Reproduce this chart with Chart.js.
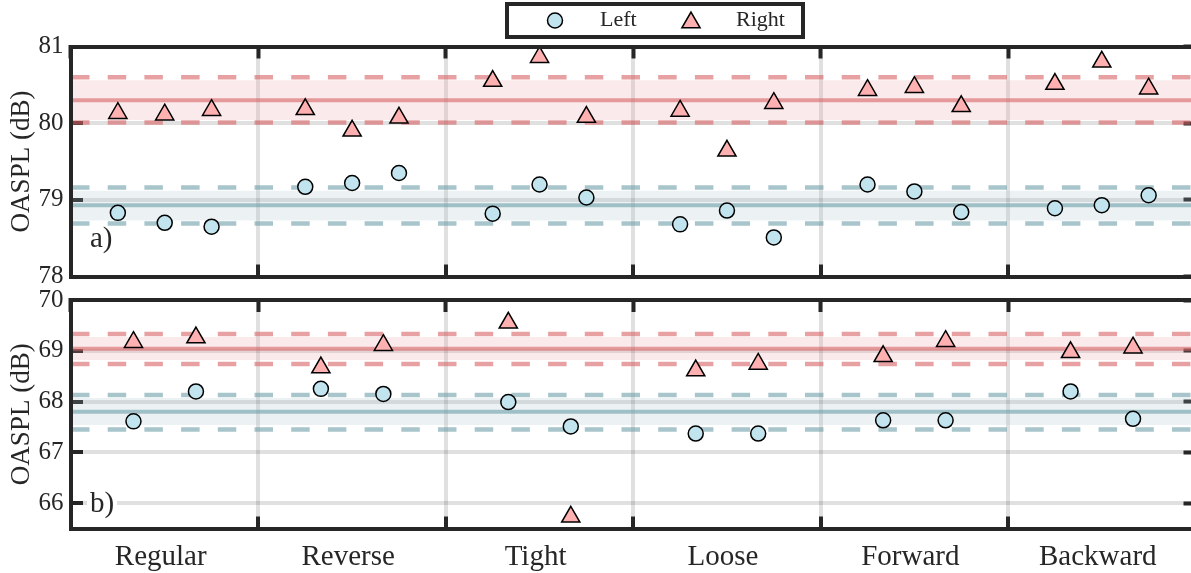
<!DOCTYPE html>
<html>
<head>
<meta charset="utf-8">
<title>OASPL by configuration</title>
<script src="https://cdn.jsdelivr.net/npm/chart.js@4.4.1/dist/chart.umd.min.js"></script>
<style>
  html, body { margin: 0; padding: 0; background: #fff; overflow: hidden; }
  #wrap { position: relative; width: 1191px; height: 573px; overflow: hidden; }
  canvas { position: absolute; left: 0; }
  #chartA { top: 0; }
  #chartB { top: 288px; }
</style>
</head>
<body>
<div id="wrap">
  <canvas id="chartA" width="1200" height="288"></canvas>
  <canvas id="chartB" width="1200" height="285"></canvas>
</div>
<script>
const categories = ["Regular", "Reverse", "Tight", "Loose", "Forward", "Backward"];

// panel a): three runs per configuration
const runsA = [0.25, 0.5, 0.75];
const leftA = [78.83, 78.70, 78.65, 79.17, 79.22, 79.35, 78.82, 79.20, 79.03,
               78.68, 78.86, 78.51, 79.20, 79.11, 78.84, 78.89, 78.93, 79.06];
const rightA = [80.13, 80.11, 80.17, 80.18, 79.90, 80.07, 80.55, 80.86, 80.08,
                80.16, 79.64, 80.26, 80.43, 80.47, 80.22, 80.51, 80.80, 80.45];
const yTicksA = [78, 79, 80, 81];

// panel b): two runs per configuration
const runsB = [1 / 3, 2 / 3];
const leftB = [67.61, 68.20, 68.25, 68.15, 67.99, 67.51, 67.37, 67.37, 67.63, 67.63, 68.20, 67.66];
const rightB = [69.17, 69.26, 68.67, 69.11, 69.55, 65.73, 68.61, 68.74, 68.89, 69.19, 68.97, 69.06];
const yTicksB = [66, 67, 68, 69, 70];

// [mean, band low, band high, dashed low, dashed high]
const statsLeftA = [78.93, 78.73, 79.12, 78.69, 79.16];
const statsRightA = [80.30, 80.04, 80.56, 80.01, 80.60];
const statsLeftB = [67.80, 67.54, 68.07, 67.45, 68.13];
const statsRightB = [69.04, 68.82, 69.27, 68.74, 69.33];

Chart.defaults.font.family = "'Liberation Serif', 'Times New Roman', serif";
Chart.defaults.color = '#262626';

const ink = '#262626';
const gridGray = 'rgba(0,0,0,0.12)';
const red = { line: 'rgba(217,98,100,0.6)', band: 'rgba(230,150,155,0.2)', marker: '#ffb1b1' };
const blue = { line: 'rgba(110,158,170,0.6)', band: 'rgba(160,190,200,0.2)', marker: '#c2e4ee' };

function placeRuns(values, runs) {
  return values.map((v, i) => ({ x: Math.floor(i / runs.length) + runs[i % runs.length], y: v }));
}
function across(y) {
  return [{ x: 0, y: y }, { x: categories.length, y: y }];
}

function statSets(stats, col) {
  const [mean, bandLo, bandHi, dashLo, dashHi] = stats;
  return [
    { data: across(bandHi), fill: { value: bandLo }, backgroundColor: col.band, borderWidth: 0, order: 4 },
    { data: across(dashHi), borderColor: col.line, borderWidth: 4.5, borderDash: [18.5, 18.2], order: 3 },
    { data: across(dashLo), borderColor: col.line, borderWidth: 4.5, borderDash: [18.5, 18.2], order: 3 },
    { data: across(mean), borderColor: col.line, borderWidth: 4, order: 2 }
  ].map(d => Object.assign({ type: 'line', label: '', pointRadius: 0, fill: false, tension: 0 }, d));
}

function markerSets(left, right, runs) {
  return [
    { label: 'Left', data: placeRuns(left, runs), pointStyle: 'circle', pointRadius: 7.5,
      backgroundColor: blue.marker, borderColor: '#000', borderWidth: 1.5, order: 0, clip: false },
    { label: 'Right', data: placeRuns(right, runs), pointStyle: 'triangle', pointRadius: 10.5,
      backgroundColor: red.marker, borderColor: '#000', borderWidth: 1.5, order: 0, clip: false }
  ];
}

// framed legend like the original figure
const framedLegend = {
  id: 'framedLegend',
  afterDraw(chart, args, opts) {
    const ctx = chart.ctx;
    ctx.save();
    ctx.fillStyle = '#fff';
    ctx.fillRect(opts.x, opts.y, opts.w, opts.h);
    ctx.lineWidth = 4;
    ctx.strokeStyle = ink;
    ctx.strokeRect(opts.x, opts.y, opts.w, opts.h);
    const items = chart.data.datasets.filter(d => d.label);
    items.forEach((d, i) => {
      const mx = opts.itemX[i];
      const my = opts.y + opts.h / 2 + (d.pointStyle === 'triangle' ? 2 : 0);
      ctx.fillStyle = d.backgroundColor;
      ctx.strokeStyle = d.borderColor;
      ctx.lineWidth = d.borderWidth;
      Chart.helpers.drawPoint(ctx, { pointStyle: d.pointStyle, radius: d.pointRadius, borderWidth: d.borderWidth }, mx, my);
      ctx.fillStyle = ink;
      ctx.font = "22px 'Liberation Serif', 'Times New Roman', serif";
      ctx.textBaseline = 'middle';
      ctx.fillText(d.label, mx + 45, opts.y + opts.h / 2);
    });
    ctx.restore();
  }
};

// "a)" / "b)" tag with white background
const panelTag = {
  id: 'panelTag',
  beforeDatasetsDraw(chart, args, opts) {
    const ctx = chart.ctx;
    const a = chart.chartArea;
    ctx.save();
    ctx.font = "29px 'Liberation Serif', 'Times New Roman', serif";
    ctx.fillStyle = '#fff';
    ctx.fillRect(a.left + 16, a.bottom - opts.lift - 24, 30, 30);
    ctx.fillStyle = ink;
    ctx.textBaseline = 'alphabetic';
    ctx.fillText(opts.text, a.left + 19, a.bottom - opts.lift);
    ctx.restore();
  }
};

// fixed axis sizes, no automatic label padding
function fixSize(w, h) {
  return s => {
    if (w !== null) s.width = w;
    if (h !== null) s.height = h;
    s.paddingTop = 0; s.paddingBottom = 0; s.paddingLeft = 0; s.paddingRight = 0;
  };
}

function scalesFor(yTicks, yMin, yMax, showLabels, xHeight) {
  const catTicks = s => { s.ticks = categories.map((c, i) => ({ value: i + 0.5 })); };
  const valTicks = s => { s.ticks = yTicks.map(v => ({ value: v })); };
  const tickMarks = { tickLength: -12, tickColor: ink, tickWidth: 4 };
  const frame = { color: ink, width: 4, z: 1 };
  return {
    x: {
      type: 'linear', position: 'bottom', min: 0, max: categories.length,
      afterBuildTicks: catTicks,
      afterFit: fixSize(null, xHeight),
      ticks: { display: showLabels, callback: (v, i) => categories[i], font: { size: 29 },
               padding: 23, labelOffset: -4, maxRotation: 0, autoSkip: false },
      grid: Object.assign({ offset: true, color: gridGray, lineWidth: 4 }, tickMarks),
      border: frame
    },
    xTop: {
      type: 'linear', position: 'top', min: 0, max: categories.length,
      afterBuildTicks: catTicks,
      afterFit: fixSize(null, 0),
      ticks: { display: false },
      grid: Object.assign({ offset: true, drawOnChartArea: false }, tickMarks),
      border: frame
    },
    y: {
      type: 'linear', position: 'left', min: yMin, max: yMax,
      afterBuildTicks: valTicks,
      afterFit: fixSize(71, null),
      ticks: { font: { size: 25 }, padding: 19.5 },
      grid: Object.assign({ color: gridGray, lineWidth: 4 }, tickMarks),
      border: frame,
      title: { display: true, text: 'OASPL (dB)', font: { size: 27 }, padding: { top: 6, bottom: 0 } }
    },
    yRight: {
      type: 'linear', position: 'right', min: yMin, max: yMax,
      afterBuildTicks: valTicks,
      afterFit: fixSize(0, null),
      ticks: { display: false },
      grid: Object.assign({ drawOnChartArea: false }, tickMarks),
      border: frame
    }
  };
}

new Chart(document.getElementById('chartA'), {
  type: 'scatter',
  data: {
    datasets: [
      ...statSets(statsRightA, red),
      ...statSets(statsLeftA, blue),
      ...markerSets(leftA, rightA, runsA)
    ]
  },
  options: {
    responsive: false,
    animation: false,
    events: [],
    layout: { autoPadding: false, padding: { left: 0, right: 4.5, top: 46.5, bottom: 11.5 } },
    scales: scalesFor(yTicksA, 78, 81, false, 0),
    plugins: {
      legend: { display: false },
      tooltip: { enabled: false },
      framedLegend: { x: 507, y: 4, w: 296, h: 33, itemX: [555, 691] },
      panelTag: { text: 'a)', lift: 30 }
    }
  },
  plugins: [framedLegend, panelTag]
});

new Chart(document.getElementById('chartB'), {
  type: 'scatter',
  data: {
    datasets: [
      ...statSets(statsRightB, red),
      ...statSets(statsLeftB, blue),
      ...markerSets(leftB, rightB, runsB)
    ]
  },
  options: {
    responsive: false,
    animation: false,
    events: [],
    layout: { autoPadding: false, padding: { left: 0, right: 4.5, top: 12, bottom: 0 } },
    scales: scalesFor(yTicksB, 65.5, 70, true, 44.5),
    plugins: {
      legend: { display: false },
      tooltip: { enabled: false },
      panelTag: { text: 'b)', lift: 17 }
    }
  },
  plugins: [panelTag]
});
</script>
</body>
</html>
